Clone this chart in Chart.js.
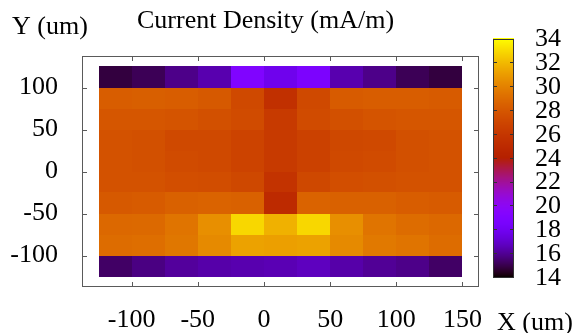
<!DOCTYPE html>
<html><head><meta charset="utf-8">
<script src="https://cdn.jsdelivr.net/npm/chart.js@4/dist/chart.umd.min.js"></script>
<style>html,body{margin:0;padding:0;background:#fff;} #wrap{width:582px;height:333px;position:relative;}</style>
</head><body><div id="wrap"><canvas id="c" width="582" height="333"></canvas></div>
<script>
// ---- data ----
const xCenters = [-112.5,-87.5,-62.5,-37.5,-12.5,12.5,37.5,62.5,87.5,112.5,137.5];
const yCenters = [112.5,87.5,62.5,37.5,12.5,-12.5,-37.5,-62.5,-87.5,-112.5];
const rowY112 = [14.8,15.1,15.8,16.4,19.0,17.8,18.7,16.4,15.8,15.1,14.8];
const rowY87  = [28.3,28.4,28.3,28.1,27.2,25.5,27.2,28.2,28.3,28.3,28.2];
const rowY62  = [27.9,27.9,27.8,27.6,27.3,26.2,27.3,27.6,27.8,27.9,27.9];
const rowY37  = [27.7,27.6,27.2,27.2,26.8,26.2,26.7,27.1,27.2,27.6,27.7];
const rowY12  = [27.7,27.6,27.3,27.2,26.8,26.2,26.7,27.2,27.3,27.6,27.7];
const rowYm12 = [27.7,27.7,27.5,27.4,27.1,25.7,27.1,27.5,27.6,27.7,27.7];
const rowYm37 = [28.1,28.2,28.5,28.6,28.5,25.0,28.6,28.5,28.5,28.3,28.2];
const rowYm62 = [28.85,28.9,29.4,30.5,32.9,31.7,32.9,30.5,29.4,29.0,28.85];
const rowYm87 = [29.0,29.1,29.5,30.3,31.2,31.1,31.2,30.3,29.6,29.4,29.0];
const rowYm112= [15.3,15.7,16.1,16.3,16.4,16.5,16.7,16.3,16.0,15.8,15.3];
const rows = [rowY112,rowY87,rowY62,rowY37,rowY12,rowYm12,rowYm37,rowYm62,rowYm87,rowYm112];
const xTicks = [-100,-50,0,50,100,150];
const yTicks = [-100,-50,0,50,100];
const cbTicks = [14,16,18,20,22,24,26,28,30,32,34];
const cbMin = 14, cbMax = 34;
const cellW = 25, cellH = 25;

// gnuplot default palette rgbformulae 7,5,15
function palette(v){
  let t = (v - cbMin) / (cbMax - cbMin);
  t = Math.max(0, Math.min(1, t));
  const cl = z => Math.round(255 * Math.max(0, Math.min(1, z)));
  return `rgb(${cl(Math.sqrt(t))},${cl(t*t*t)},${cl(Math.sin(2*Math.PI*t))})`;
}

const cells = [];
rows.forEach((r, j) => r.forEach((v, i) => cells.push({x: xCenters[i], y: yCenters[j], v})));

const FONT = '"Liberation Serif", "Times New Roman", serif';
const FS = 26;

const heatPlugin = {
  id: 'heat',
  beforeDatasetsDraw(chart){
    const {ctx, scales:{x, y}} = chart;
    ctx.save();
    chart.data.datasets[0].data.forEach(c => {
      const x0 = x.getPixelForValue(c.x - cellW/2), x1 = x.getPixelForValue(c.x + cellW/2);
      const y0 = y.getPixelForValue(c.y + cellH/2), y1 = y.getPixelForValue(c.y - cellH/2);
      ctx.fillStyle = palette(c.v);
      ctx.fillRect(Math.round(x0), Math.round(y0), Math.round(x1) - Math.round(x0), Math.round(y1) - Math.round(y0));
    });
    ctx.restore();
  },
  afterDraw(chart){
    const {ctx, chartArea:a, scales:{x, y}} = chart;
    ctx.save();
    // border
    ctx.strokeStyle = '#5a5a5a';
    ctx.lineWidth = 1;
    ctx.strokeRect(Math.round(a.left)+0.5, Math.round(a.top)+0.5, Math.round(a.right-a.left)-1, Math.round(a.bottom-a.top)-1);
    // inward ticks
    const TL = 5;
    ctx.beginPath();
    xTicks.forEach(v => {
      const px = Math.round(x.getPixelForValue(v)) + 0.5;
      ctx.moveTo(px, a.bottom); ctx.lineTo(px, a.bottom - TL);
      ctx.moveTo(px, a.top); ctx.lineTo(px, a.top + TL);
    });
    yTicks.forEach(v => {
      const py = Math.round(y.getPixelForValue(v)) + 0.5;
      ctx.moveTo(a.left, py); ctx.lineTo(a.left + TL, py);
      ctx.moveTo(a.right, py); ctx.lineTo(a.right - TL, py);
    });
    ctx.stroke();

    // colorbar
    const cb = {left: 493, right: 514, top: 38.5, bottom: 277};
    const vp = v => cb.bottom - (v - cbMin) / (cbMax - cbMin) * (cb.bottom - cb.top);
    for (let py = Math.floor(cb.top); py < Math.ceil(cb.bottom); py++) {
      const v = cbMin + (cb.bottom - (py + 0.5)) / (cb.bottom - cb.top) * (cbMax - cbMin);
      ctx.fillStyle = palette(v);
      ctx.fillRect(cb.left, py, cb.right - cb.left, 1);
    }
    ctx.strokeStyle = '#333';
    ctx.strokeRect(cb.left + 0.5, Math.round(cb.top) + 0.5, cb.right - cb.left - 1, Math.round(cb.bottom - cb.top) - 1);
    ctx.beginPath();
    cbTicks.forEach(v => {
      const py = Math.round(vp(v)) + 0.5;
      ctx.moveTo(cb.left, py); ctx.lineTo(cb.left + 4, py);
      ctx.moveTo(cb.right, py); ctx.lineTo(cb.right - 4, py);
    });
    ctx.stroke();
    ctx.fillStyle = '#000';
    ctx.font = `${FS}px ${FONT}`;
    ctx.textAlign = 'left';
    ctx.textBaseline = 'middle';
    cbTicks.forEach(v => ctx.fillText(String(v), 535, vp(v) + 1));

    // texts
    ctx.textBaseline = 'alphabetic';
    ctx.fillText('Y (um)', 12, 34);
    ctx.fillText('Current Density (mA/m)', 137, 28);
    ctx.fillText('X (um)', 497, 330);
    ctx.restore();
  }
};

new Chart(document.getElementById('c'), {
  type: 'scatter',
  data: { datasets: [{ data: cells, pointRadius: 0, pointHoverRadius: 0 }] },
  options: {
    responsive: false, animation: false, devicePixelRatio: 1,
    layout: { padding: { top: 56, right: 103, left: 0, bottom: 0 } },
    plugins: { legend: { display: false }, tooltip: { enabled: false }, title: { display: false } },
    events: [],
    scales: {
      x: {
        type: 'linear', min: -137.5, max: 162.5,
        grid: { display: false, drawTicks: false },
        border: { display: false },
        afterBuildTicks: s => { s.ticks = xTicks.map(v => ({value: v})); },
        afterFit: s => { s.height = 46; },
        ticks: { color: '#000', font: { family: FONT, size: FS }, padding: 18, maxRotation: 0, autoSkip: false }
      },
      y: {
        type: 'linear', min: -137.5, max: 137.5,
        grid: { display: false, drawTicks: false },
        border: { display: false },
        afterBuildTicks: s => { s.ticks = yTicks.map(v => ({value: v})); },
        afterFit: s => { s.width = 82; },
        ticks: { color: '#000', font: { family: FONT, size: FS }, padding: 24, autoSkip: false }
      }
    }
  },
  plugins: [heatPlugin]
});
</script></body></html>
